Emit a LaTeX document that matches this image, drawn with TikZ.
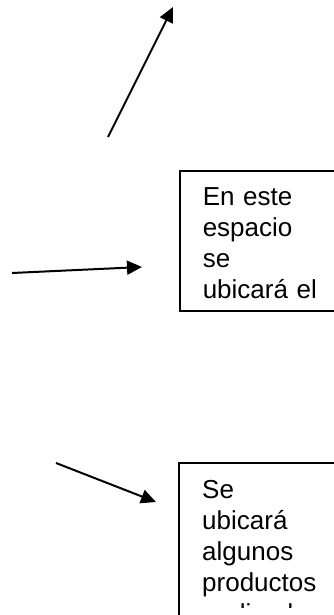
\documentclass[tikz,border=0pt]{standalone}
\usepackage{fontspec}
\setmainfont{Liberation Sans}
\usetikzlibrary{arrows.meta}
\newcommand{\topgap}{\rule{0pt}{35pt}}
\newcommand{\botgap}{\rule[-12pt]{0pt}{12pt}}
\tikzset{pointer/.style={line width=2pt,-{Triangle[length=15pt,width=14pt]}},
  boxline/.style={line width=1.5pt},
  notebox/.style={anchor=north west,align=left,
    text width=130pt,inner xsep=23pt,inner ysep=0pt,
    font=\fontsize{26}{31}\selectfont}}
\begin{document}
\begin{tikzpicture}[x=1pt,y=-1pt]
  \useasboundingbox (0,0) rectangle (334,615);
  \clip (0,0) rectangle (334,615);
  % arrow ends
  \coordinate (upfrom) at (108,137);
  \coordinate (upto) at (173,7);
  \coordinate (midfrom) at (12,273);
  \coordinate (midto) at (142,267);
  \coordinate (lowfrom) at (56,463);
  \coordinate (lowto) at (156,502);
  \draw[pointer] (upfrom) -- (upto);
  \draw[pointer] (midfrom) -- (midto);
  \draw[pointer] (lowfrom) -- (lowto);
  % text boxes
  \node[notebox,draw,boxline] (espacio) at (179,170) {\topgap En este\\espacio\\se\\ubicará el\botgap};
  \begin{scope}
    \clip (0,0) rectangle (334,607);
    \node[notebox] (productos) at (179,463) {\topgap Se\\ubicará\\algunos\\productos\\realizados\botgap};
  \end{scope}
  \draw[boxline] (productos.north west) rectangle (productos.south east);
\end{tikzpicture}
\end{document}
